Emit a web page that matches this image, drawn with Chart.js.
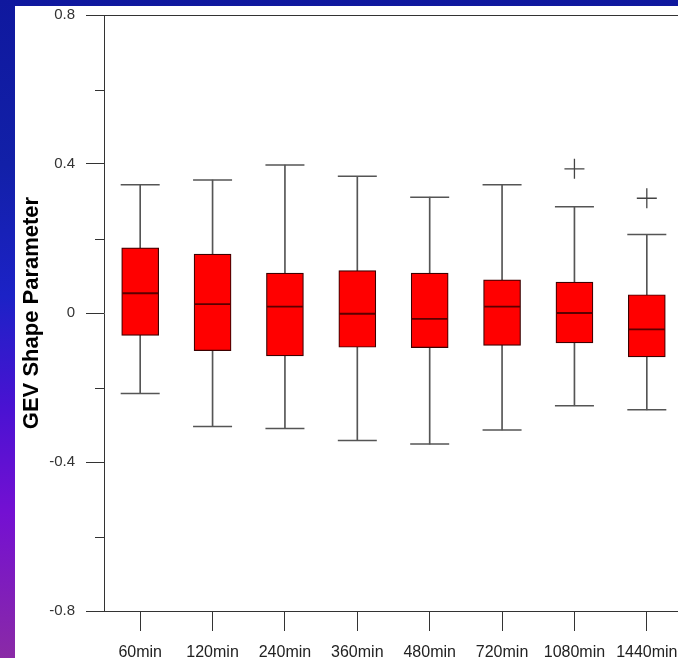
<!DOCTYPE html>
<html>
<head>
<meta charset="utf-8">
<script src="https://cdn.jsdelivr.net/npm/chart.js@4"></script>
<style>
  html, body { margin: 0; padding: 0; }
  body {
    width: 678px; height: 658px; overflow: hidden; position: relative;
    background: linear-gradient(to bottom, #0f189e 0%, #1220a8 25%, #1c22c6 45%, #4a12d2 62%, #7410d2 78%, #8a2aa6 100%);
  }
  #panel {
    position: absolute; left: 15px; top: 6px; width: 663px; height: 652px;
    background: #fff; overflow: hidden;
  }
  /* the value axis reserves room above its top label, so pull the canvas up */
  canvas { display: block; position: absolute; left: 0; top: -12px; }
</style>
</head>
<body>
<div id="panel"><canvas id="gev-chart" width="690" height="664"></canvas></div>
<script>
// durations and box-plot statistics of the GEV shape parameter
var durations = ["60min", "120min", "240min", "360min", "480min", "720min", "1080min", "1440min"];
var whiskerLow  = [-0.216, -0.305, -0.310, -0.342, -0.352, -0.314, -0.249, -0.260];
var quartileLow = [-0.060, -0.101, -0.115, -0.092, -0.093, -0.087, -0.080, -0.118];
var medians     = [ 0.053,  0.024,  0.017, -0.002, -0.016,  0.017,  0.000, -0.044];
var quartileHigh= [ 0.175,  0.158,  0.107,  0.114,  0.107,  0.089,  0.083,  0.049];
var whiskerHigh = [ 0.344,  0.357,  0.397,  0.367,  0.311,  0.344,  0.285,  0.211];
var outliers    = [null, null, null, null, null, null, 0.387, 0.308];

var yTicks = [-0.8, -0.4, 0, 0.4, 0.8];
var yMinorTicks = [-0.6, -0.2, 0.2, 0.6];

Chart.defaults.font.family = "'Liberation Sans', Arial, sans-serif";
Chart.defaults.color = "#333";

var stems = durations.map(function(d, i) { return [whiskerLow[i], whiskerHigh[i]]; });
var boxes = durations.map(function(d, i) { return [quartileLow[i], quartileHigh[i]]; });

// short inner ticks between the labelled ones on the value axis
var minorTicks = {
    id: "minorTicks",
    afterDraw: function(chart) {
        var y = chart.scales.y;
        var ctx = chart.ctx;
        ctx.save();
        ctx.strokeStyle = "#333";
        ctx.lineWidth = 1;
        yMinorTicks.forEach(function(v) {
            var py = Math.round(y.getPixelForValue(v)) + 0.5;
            ctx.beginPath();
            ctx.moveTo(chart.chartArea.left - 9, py);
            ctx.lineTo(chart.chartArea.left, py);
            ctx.stroke();
        });
        ctx.restore();
    }
};

var ctx = document.getElementById("gev-chart").getContext("2d");
var chart = new Chart(ctx, {
    type: "bar",
    data: {
        labels: durations,
        datasets: [
            {
                label: "whisker",
                data: stems,
                backgroundColor: "#555",
                barThickness: 1,
                grouped: false,
                order: 4
            },
            {
                label: "box",
                data: boxes,
                backgroundColor: "#ff0000",
                borderColor: "#3c0000",
                borderWidth: 1.2,
                borderSkipped: false,
                barThickness: 37,
                grouped: false,
                order: 3
            },
            {
                type: "line",
                label: "median",
                data: medians,
                showLine: false,
                pointStyle: "line",
                pointRadius: 18,
                pointBorderColor: "#5a0000",
                pointBorderWidth: 1.8,
                order: 1
            },
            {
                type: "line",
                label: "upper cap",
                data: whiskerHigh,
                showLine: false,
                pointStyle: "line",
                pointRadius: 19.5,
                pointBorderColor: "#555",
                pointBorderWidth: 1.5,
                order: 2
            },
            {
                type: "line",
                label: "lower cap",
                data: whiskerLow,
                showLine: false,
                pointStyle: "line",
                pointRadius: 19.5,
                pointBorderColor: "#555",
                pointBorderWidth: 1.5,
                order: 2
            },
            {
                type: "line",
                label: "outlier",
                data: outliers,
                showLine: false,
                pointStyle: "cross",
                pointRadius: 10,
                pointBorderColor: "#444",
                pointBorderWidth: 1.3,
                order: 1
            }
        ]
    },
    options: {
        responsive: false,
        animation: false,
        events: [],
        layout: { padding: { top: 9, right: 22, left: 0, bottom: 0 } },
        plugins: {
            legend: { display: false },
            tooltip: { enabled: false }
        },
        scales: {
            x: {
                type: "category",
                afterFit: function(scale) { scale.height = 47; },
                border: { display: true, color: "#333", width: 1 },
                grid: {
                    offset: false,
                    drawOnChartArea: false,
                    tickLength: 20,
                    tickColor: "#333"
                },
                ticks: {
                    autoSkip: false,
                    maxRotation: 0,
                    padding: 12,
                    color: "#222",
                    font: { size: 16 }
                }
            },
            y: {
                min: -0.8,
                max: 0.8,
                afterFit: function(scale) { scale.width = 89; },
                afterBuildTicks: function(scale) {
                    scale.ticks = yTicks.map(function(v) { return { value: v }; });
                },
                border: { display: true, color: "#333", width: 1 },
                grid: {
                    color: function(c) {
                        return c.tick && c.tick.value === 0.8 ? "#333" : "rgba(0,0,0,0)";
                    },
                    tickLength: 18,
                    tickColor: "#333"
                },
                ticks: {
                    padding: 11,
                    color: "#333",
                    font: { size: 15 },
                    callback: function(v) { return String(v); }
                },
                title: {
                    display: true,
                    text: "GEV Shape Parameter",
                    color: "#000",
                    font: { size: 22, weight: "bold" },
                    padding: { top: 4, bottom: 0 }
                }
            }
        }
    },
    plugins: [minorTicks]
});
</script>
</body>
</html>
